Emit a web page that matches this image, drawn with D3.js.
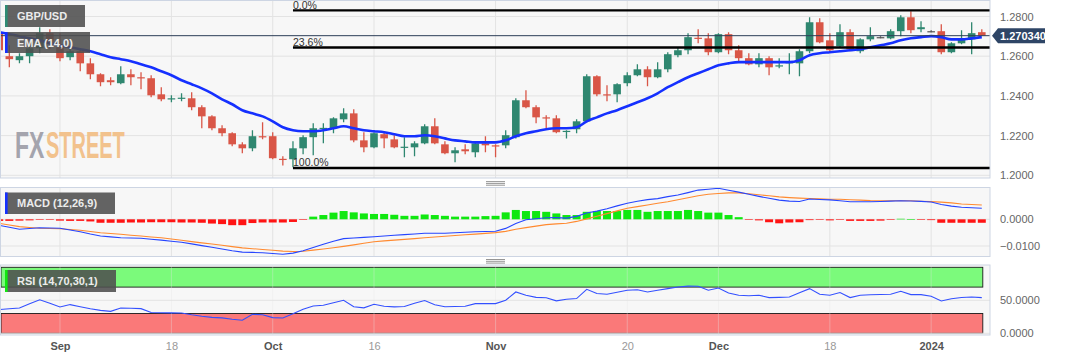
<!DOCTYPE html>
<html><head><meta charset="utf-8">
<script src="https://cdn.jsdelivr.net/npm/d3@7"></script>
<style>html,body{margin:0;padding:0;background:#fff;}svg{display:block;font-family:"Liberation Sans",Arial,sans-serif;}</style>
</head><body><svg id="c" width="1067" height="360"></svg>
<script>
// ---------------- DATA ----------------
const openP=[1.2721,1.2600,1.2580,1.2600,1.2640,1.2716,1.2645,1.2595,1.2625,1.2564,
1.2509,1.2479,1.2464,1.2509,1.2494,1.2489,1.2408,1.2383,1.2388,1.2388,
1.2343,1.2297,1.2237,1.2212,1.2156,1.2136,1.2197,1.2197,1.2083,1.2081,
1.2136,1.2192,1.2237,1.2237,1.2282,1.2312,1.2176,1.2141,1.2207,1.2181,
1.2141,1.2141,1.2161,1.2247,1.2156,1.2111,1.2131,1.2116,1.2161,1.2151,
1.2151,1.2192,1.2378,1.2343,1.2292,1.2287,1.2222,1.2232,1.2272,1.2499,
1.2408,1.2408,1.2464,1.2504,1.2534,1.2494,1.2534,1.2605,1.2630,1.2693,
1.2690,1.2620,1.2711,1.2630,1.2590,1.2559,1.2590,1.2552,1.2567,1.2564,
1.2625,1.2771,1.2680,1.2650,1.2721,1.2625,1.2685,1.2696,1.2690,1.2726,
1.2796,1.2736,1.2726,1.2726,1.2620,1.2665,1.2685,1.2721];
const highP=[1.2731,1.2655,1.2615,1.2665,1.2746,1.2736,1.2716,1.2640,1.2640,1.2590,
1.2514,1.2494,1.2549,1.2534,1.2519,1.2504,1.2444,1.2403,1.2413,1.2418,
1.2353,1.2302,1.2252,1.2217,1.2166,1.2227,1.2267,1.2217,1.2096,1.2171,
1.2202,1.2262,1.2262,1.2292,1.2338,1.2333,1.2217,1.2217,1.2217,1.2202,
1.2192,1.2171,1.2257,1.2287,1.2171,1.2141,1.2156,1.2166,1.2197,1.2156,
1.2227,1.2388,1.2428,1.2353,1.2302,1.2302,1.2227,1.2282,1.2509,1.2504,
1.2454,1.2464,1.2519,1.2559,1.2549,1.2570,1.2620,1.2645,1.2716,1.2736,
1.2716,1.2716,1.2721,1.2655,1.2615,1.2615,1.2600,1.2590,1.2615,1.2635,
1.2796,1.2791,1.2716,1.2761,1.2736,1.2690,1.2746,1.2701,1.2736,1.2806,
1.2827,1.2776,1.2731,1.2761,1.2670,1.2731,1.2771,1.2736];
const lowP=[1.2620,1.2544,1.2564,1.2564,1.2615,1.2635,1.2575,1.2580,1.2524,1.2484,
1.2449,1.2454,1.2459,1.2454,1.2433,1.2393,1.2373,1.2368,1.2373,1.2328,
1.2237,1.2227,1.2197,1.2146,1.2111,1.2121,1.2181,1.2081,1.2050,1.2040,
1.2106,1.2101,1.2161,1.2212,1.2267,1.2166,1.2116,1.2136,1.2136,1.2136,
1.2091,1.2096,1.2156,1.2156,1.2106,1.2066,1.2106,1.2091,1.2116,1.2091,
1.2136,1.2186,1.2338,1.2262,1.2237,1.2212,1.2186,1.2212,1.2267,1.2398,
1.2373,1.2368,1.2449,1.2499,1.2449,1.2489,1.2519,1.2595,1.2610,1.2665,
1.2605,1.2615,1.2610,1.2575,1.2554,1.2544,1.2504,1.2539,1.2509,1.2499,
1.2615,1.2665,1.2620,1.2645,1.2625,1.2615,1.2675,1.2690,1.2685,1.2701,
1.2716,1.2721,1.2721,1.2610,1.2615,1.2660,1.2610,1.2703];
const closeP=[1.2630,1.2585,1.2600,1.2640,1.2716,1.2665,1.2590,1.2625,1.2564,1.2509,
1.2469,1.2469,1.2509,1.2494,1.2489,1.2403,1.2383,1.2388,1.2391,1.2343,
1.2297,1.2237,1.2212,1.2156,1.2136,1.2197,1.2192,1.2086,1.2081,1.2136,
1.2192,1.2237,1.2239,1.2287,1.2312,1.2176,1.2141,1.2212,1.2186,1.2141,
1.2144,1.2161,1.2247,1.2161,1.2111,1.2126,1.2121,1.2161,1.2151,1.2146,
1.2202,1.2378,1.2343,1.2292,1.2287,1.2217,1.2224,1.2272,1.2499,1.2408,
1.2405,1.2459,1.2504,1.2534,1.2494,1.2534,1.2610,1.2630,1.2696,1.2688,
1.2620,1.2711,1.2630,1.2590,1.2559,1.2590,1.2544,1.2554,1.2570,1.2625,
1.2771,1.2670,1.2630,1.2721,1.2635,1.2685,1.2701,1.2696,1.2726,1.2796,
1.2731,1.2746,1.2726,1.2620,1.2665,1.2685,1.2716,1.27034];
const ema14=[1.2721,1.2711,1.2701,1.2690,1.2680,1.2665,1.2655,1.2645,1.2635,1.2625,
1.2610,1.2595,1.2585,1.2575,1.2559,1.2544,1.2524,1.2504,1.2479,1.2459,
1.2438,1.2413,1.2383,1.2358,1.2328,1.2312,1.2297,1.2272,1.2242,1.2227,
1.2222,1.2222,1.2227,1.2237,1.2247,1.2237,1.2227,1.2222,1.2217,1.2207,
1.2197,1.2197,1.2202,1.2197,1.2186,1.2176,1.2171,1.2166,1.2166,1.2166,
1.2176,1.2197,1.2212,1.2222,1.2232,1.2237,1.2237,1.2242,1.2272,1.2292,
1.2312,1.2328,1.2348,1.2368,1.2388,1.2413,1.2444,1.2469,1.2494,1.2514,
1.2534,1.2554,1.2564,1.2570,1.2570,1.2570,1.2570,1.2570,1.2570,1.2580,
1.2605,1.2615,1.2620,1.2625,1.2630,1.2635,1.2645,1.2655,1.2665,1.2680,
1.2690,1.2696,1.2701,1.2696,1.2685,1.2685,1.2690,1.2696];
const macdLine=[-0.00225,-0.00300,-0.00371,-0.00345,-0.00315,-0.00326,-0.00337,-0.00401,-0.00464,-0.00551,
-0.00625,-0.00659,-0.00689,-0.00700,-0.00712,-0.00749,-0.00779,-0.00820,-0.00858,-0.00921,
-0.00985,-0.01049,-0.01112,-0.01176,-0.01228,-0.01240,-0.01255,-0.01281,-0.01307,-0.01266,
-0.01176,-0.01056,-0.00933,-0.00820,-0.00723,-0.00700,-0.00678,-0.00652,-0.00625,-0.00599,
-0.00573,-0.00551,-0.00524,-0.00524,-0.00524,-0.00506,-0.00487,-0.00468,-0.00457,-0.00446,
-0.00341,-0.00161,-0.00015,0.00022,0.00060,0.00064,0.00045,0.00109,0.00236,0.00307,
0.00397,0.00502,0.00599,0.00674,0.00738,0.00775,0.00850,0.00910,0.01000,0.01094,
0.01127,0.01161,0.01090,0.01019,0.00936,0.00858,0.00787,0.00719,0.00682,0.00667,
0.00760,0.00742,0.00727,0.00693,0.00659,0.00659,0.00659,0.00667,0.00682,0.00697,
0.00685,0.00670,0.00648,0.00554,0.00494,0.00449,0.00431,0.00412];
const signalLine=[-0.00150,-0.00213,-0.00273,-0.00307,-0.00337,-0.00345,-0.00352,-0.00382,-0.00412,-0.00457,
-0.00502,-0.00532,-0.00562,-0.00596,-0.00625,-0.00663,-0.00693,-0.00738,-0.00783,-0.00835,
-0.00884,-0.00925,-0.00974,-0.01022,-0.01071,-0.01101,-0.01131,-0.01161,-0.01191,-0.01206,
-0.01199,-0.01154,-0.01112,-0.01064,-0.01015,-0.00959,-0.00899,-0.00839,-0.00809,-0.00779,
-0.00753,-0.00723,-0.00693,-0.00663,-0.00633,-0.00607,-0.00581,-0.00554,-0.00528,-0.00498,
-0.00453,-0.00375,-0.00311,-0.00255,-0.00199,-0.00172,-0.00146,-0.00079,0.00015,0.00116,
0.00213,0.00315,0.00412,0.00476,0.00536,0.00599,0.00659,0.00730,0.00805,0.00880,
0.00940,0.00966,0.00989,0.00989,0.00955,0.00918,0.00880,0.00839,0.00813,0.00794,
0.00779,0.00764,0.00753,0.00749,0.00734,0.00719,0.00700,0.00697,0.00697,0.00697,
0.00693,0.00678,0.00663,0.00644,0.00614,0.00573,0.00554,0.00536];
const macdHist=[-0.0006,-0.0006,-0.0005,-0.0004,-0.0002,-0.0002,-0.0005,-0.0006,-0.0006,-0.0008,
-0.0013,-0.0013,-0.0013,-0.0012,-0.0012,-0.0011,-0.0011,-0.0011,-0.0012,-0.0012,
-0.0013,-0.0016,-0.0018,-0.0022,-0.0022,-0.0014,-0.0012,-0.0012,-0.0012,-0.0010,
-0.0002,0.0010,0.0016,0.0025,0.0031,0.0026,0.0022,0.0020,0.0020,0.0017,
0.0013,0.0013,0.0018,0.0016,0.0013,0.0010,0.0010,0.0010,0.0012,0.0013,
0.0026,0.0035,0.0031,0.0031,0.0028,0.0022,0.0016,0.0016,0.0028,0.0031,
0.0031,0.0031,0.0035,0.0035,0.0028,0.0031,0.0031,0.0031,0.0035,0.0031,
0.0025,0.0025,0.0016,0.0008,-0.0002,-0.0004,-0.0011,-0.0015,-0.0012,-0.0011,
-0.0003,-0.0001,-0.0004,-0.0001,-0.0006,-0.0006,-0.0006,-0.0005,-0.0002,0.0002,
0.0001,-0.0001,-0.0003,-0.0013,-0.0013,-0.0013,-0.0013,-0.0013];
const rsi14=[35.9,37.1,38.3,44.7,50.8,45.5,39.8,43.5,40.2,37.1,
34.8,33.3,38.3,37.9,37.4,31.4,31.2,30.9,30.8,28.0,
25.8,24.2,23.3,21.2,19.7,28.8,28.0,23.8,23.2,29.5,
36.4,41.4,42.4,46.2,50.0,40.2,38.6,43.9,40.9,40.0,
40.6,45.5,49.7,43.2,40.2,40.5,40.9,45.0,45.0,45.0,
50.0,62.6,57.6,54.5,53.8,49.2,51.5,52.6,66.7,60.2,
59.1,62.1,65.2,65.9,62.6,65.2,67.7,70.2,71.5,71.2,
65.2,68.6,61.1,57.6,56.8,57.6,54.1,54.5,55.0,61.4,
67.7,59.1,57.6,61.7,54.1,57.6,58.3,58.8,59.1,63.6,
58.6,58.6,56.1,48.9,52.3,54.2,55.0,54.1];
const priceTicks=[1.20,1.22,1.24,1.26,1.28];
const macdTicks=[-0.01,0];
const rsiTicks=[0,50];
const rsiBands=[70,30];
const dateTicks=["2023-09-01","2023-09-18","2023-10-02","2023-10-16","2023-11-01","2023-11-20","2023-12-01","2023-12-18","2024-01-01"];
const dateTickLabels=["Sep","18","Oct","16","Nov","20","Dec","18","2024"];
const dateTickMajor=[true,false,true,false,true,false,true,false,true];
const fibLevels=[0,23.6,100];
const fibLabels=["0.0%","23.6%","100.0%"];
const fibHigh=1.2831, fibLow=1.2037, fibStart="2023-10-04";
const lastPrice=1.27034;
const symbolName="GBP/USD", emaName="EMA (14,0)", macdName="MACD (12,26,9)", rsiName="RSI (14,70,30,1)";

// ---------------- LAYOUT ----------------
const svg=d3.select("#c");
const fmt=d3.timeFormat("%Y-%m-%d");
const days=d3.timeDay.range(new Date(2023,7,24),new Date(2024,0,9))
  .filter(d=>d.getDay()!==0&&d.getDay()!==6).map(fmt);
const PR=990;
const P1={y0:0.5,y1:178}, P2={y0:187.5,y1:256.5}, P3={y0:265,y1:335};
const x=d3.scalePoint().domain(days).range([-0.8,981.8]);
const yP=d3.scaleLinear().domain([1.2,1.28]).range([175.3,16.5]);
const yM=d3.scaleLinear().domain([-0.01,0]).range([246,219.3]);
const yR=d3.scaleLinear().domain([0,100]).range([333.3,267.3]);
const GRID="#e3e3e3", BORDER="#cdd5e3";

const defs=svg.append("defs");
[P1,P2,P3].forEach((p,k)=>{
  defs.append("clipPath").attr("id","cp"+k).append("rect")
    .attr("x",0.5).attr("y",p.y0).attr("width",PR-0.5).attr("height",p.y1-p.y0);
  svg.append("rect").attr("x",0.5).attr("y",p.y0).attr("width",PR-0.5).attr("height",p.y1-p.y0)
    .attr("fill","#f7f7f7");
});
function vgrid(g,p){
  g.selectAll(null).data(dateTicks).join("line")
   .attr("x1",d=>x(d)).attr("x2",d=>x(d)).attr("y1",p.y0).attr("y2",p.y1)
   .attr("stroke",GRID).attr("stroke-width",1);
}

// ---------- Top panel ----------
const g1=svg.append("g").attr("clip-path","url(#cp0)");
vgrid(g1,P1);
g1.selectAll(null).data(priceTicks).join("line")
  .attr("x1",0).attr("x2",PR).attr("y1",d=>yP(d)).attr("y2",d=>yP(d))
  .attr("stroke",GRID);
// watermark
g1.append("text").attr("transform","translate(15,158) scale(0.62,1)")
  .attr("font-weight","bold").attr("font-size",37).attr("fill","#a4a4ad").text("FX");
g1.append("text").attr("transform","translate(46,158) scale(0.54,1)")
  .attr("font-weight","bold").attr("font-size",37).attr("fill","#f2c28d").text("STREET");
// candles
const candles=days.map((d,i)=>({d,o:openP[i],h:highP[i],l:lowP[i],c:closeP[i]}));
const col=c=>c.c>c.o?"#2f8770":(c.c<c.o?"#d95647":"#555");
const cg=g1.append("g");
cg.selectAll("line.w").data(candles).join("line").attr("class","w")
  .attr("x1",c=>x(c.d)).attr("x2",c=>x(c.d)).attr("y1",c=>yP(c.h)).attr("y2",c=>yP(c.l))
  .attr("stroke",col).attr("stroke-width",1.3);
cg.selectAll("rect.b").data(candles).join("rect").attr("class","b")
  .attr("x",c=>x(c.d)-3.8).attr("width",7.6)
  .attr("y",c=>yP(Math.max(c.o,c.c)))
  .attr("height",c=>Math.max(1.2,Math.abs(yP(c.o)-yP(c.c))))
  .attr("fill",col);
// EMA
g1.append("path").datum(ema14)
  .attr("d",d3.line().x((d,i)=>x(days[i])).y(d=>yP(d)).curve(d3.curveMonotoneX))
  .attr("fill","none").attr("stroke","#1530ff").attr("stroke-width",2.6);
// fib
const fibs=fibLevels.map((l,k)=>({p:fibHigh-(fibHigh-fibLow)*l/100,t:fibLabels[k]}));
g1.selectAll("line.fib").data(fibs).join("line").attr("class","fib")
  .attr("x1",x(fibStart)).attr("x2",PR).attr("y1",d=>yP(d.p)).attr("y2",d=>yP(d.p))
  .attr("stroke","#000").attr("stroke-width",2.4);
g1.selectAll("text.fib").data(fibs).join("text").attr("class","fib")
  .attr("x",x(fibStart)).attr("y",d=>yP(d.p)-1.8).attr("font-size",10.5).attr("fill","#333").text(d=>d.t);
// last price line
g1.append("line").attr("x1",0).attr("x2",PR).attr("y1",yP(lastPrice)).attr("y2",yP(lastPrice))
  .attr("stroke","#2c3e58").attr("stroke-width",1);

// ---------- MACD panel ----------
const g2=svg.append("g").attr("clip-path","url(#cp1)");
vgrid(g2,P2);
g2.selectAll(null).data(macdTicks).join("line")
  .attr("x1",0).attr("x2",PR).attr("y1",d=>yM(d)).attr("y2",d=>yM(d)).attr("stroke",GRID);
g2.selectAll("rect").data(macdHist).join("rect")
  .attr("x",(d,i)=>x(days[i])-4).attr("width",8)
  .attr("y",d=>d>=0?yM(d):yM(0)).attr("height",d=>Math.max(0.6,Math.abs(yM(d)-yM(0))))
  .attr("fill",d=>d>=0?"#10e810":"#ff1414");
const lineM=d3.line().x((d,i)=>x(days[i])).y(d=>yM(d));
g2.append("path").datum(signalLine).attr("d",lineM).attr("fill","none").attr("stroke","#ff8a30").attr("stroke-width",1.1);
g2.append("path").datum(macdLine).attr("d",lineM).attr("fill","none").attr("stroke","#2645ff").attr("stroke-width",1.1);

// ---------- RSI panel ----------
const g3=svg.append("g").attr("clip-path","url(#cp2)");
const xEnd=x(days[days.length-1])+1;
g3.append("rect").attr("x",1).attr("y",yR(100)).attr("width",xEnd-1).attr("height",yR(rsiBands[0])-yR(100))
  .attr("fill","#7cfa7c").attr("stroke","#1a1a1a").attr("stroke-width",0.9);
g3.append("rect").attr("x",1).attr("y",yR(rsiBands[1])).attr("width",xEnd-1).attr("height",yR(0)-yR(rsiBands[1]))
  .attr("fill","#fa7a7a").attr("stroke","#1a1a1a").attr("stroke-width",0.9);
const vg3=g3.append("g").attr("opacity",0.35); vgrid(vg3,P3);
g3.selectAll("line.h").data(rsiTicks).join("line").attr("class","h")
  .attr("x1",0).attr("x2",PR).attr("y1",d=>yR(d)).attr("y2",d=>yR(d)).attr("stroke",GRID);
g3.append("path").datum(rsi14)
  .attr("d",d3.line().x((d,i)=>x(days[i])).y(d=>yR(d)))
  .attr("fill","none").attr("stroke","#3350ff").attr("stroke-width",1.1);

// borders
[P1,P2,P3].forEach(p=>{
  svg.append("rect").attr("x",0.5).attr("y",p.y0).attr("width",PR-0.5).attr("height",p.y1-p.y0)
    .attr("fill","none").attr("stroke",BORDER).attr("stroke-width",1);
});

// handles
[183.4,261.3].forEach(cy=>{
  [-1.8,0,1.8].forEach(dy=>svg.append("line").attr("x1",486).attr("x2",505)
    .attr("y1",cy+dy).attr("y2",cy+dy).attr("stroke","#8a8a8a").attr("stroke-width",0.9));
});

// axes
function rightAxis(scale,ticks,f){
  const a=svg.append("g").attr("transform","translate(999,0)")
    .call(d3.axisRight(scale).tickValues(ticks).tickSize(0).tickPadding(1).tickFormat(f));
  a.select(".domain").remove();
  a.selectAll("text").attr("fill","#666").attr("font-size",11).attr("font-family","Liberation Sans, Arial, sans-serif");
}
rightAxis(yP,priceTicks,d3.format(".4f"));
rightAxis(yM,macdTicks,d3.format(".4f"));
rightAxis(yR,rsiTicks,d3.format(".4f"));
const ax=svg.append("g").attr("transform","translate(0,339)")
  .call(d3.axisBottom(x).tickValues(dateTicks).tickSize(0).tickPadding(3).tickFormat((d,i)=>dateTickLabels[i]));
ax.select(".domain").remove();
ax.selectAll("text").attr("font-size",11).attr("font-family","Liberation Sans, Arial, sans-serif")
  .attr("font-weight",(d,i)=>dateTickMajor[i]?"bold":"normal")
  .attr("fill",(d,i)=>dateTickMajor[i]?"#555":"#999");

// last price tag
const ly=yP(lastPrice);
svg.append("path").attr("d",`M992,${ly} L998,${ly-7.5} L1045,${ly-7.5} L1045,${ly+7.5} L998,${ly+7.5} Z`)
  .attr("fill","#2e4566");
svg.append("text").attr("x",1000).attr("y",ly+4).attr("font-size",11).attr("font-weight","bold")
  .attr("fill","#fff").text(d3.format(".6f")(lastPrice));

// legend boxes
function legend(x0,y0,w,h,txt,mark){
  svg.append("rect").attr("x",x0).attr("y",y0).attr("width",w).attr("height",h).attr("fill","rgba(78,78,78,0.88)");
  svg.append("rect").attr("x",x0).attr("y",y0).attr("width",2.6).attr("height",h).attr("fill",mark);
  svg.append("text").attr("x",x0+12).attr("y",y0+h/2+4).attr("font-size",11).attr("font-weight","bold")
    .attr("fill","#ececec").text(txt);
}
legend(5,5,80,22,symbolName,"#2e8b74");
legend(5,32,85,21,emaName,"#1530ff");
legend(5,192.5,110,21.5,macdName,"#1530ff");
legend(5,270,111,22,rsiName,"#10e810");
</script></body></html>
